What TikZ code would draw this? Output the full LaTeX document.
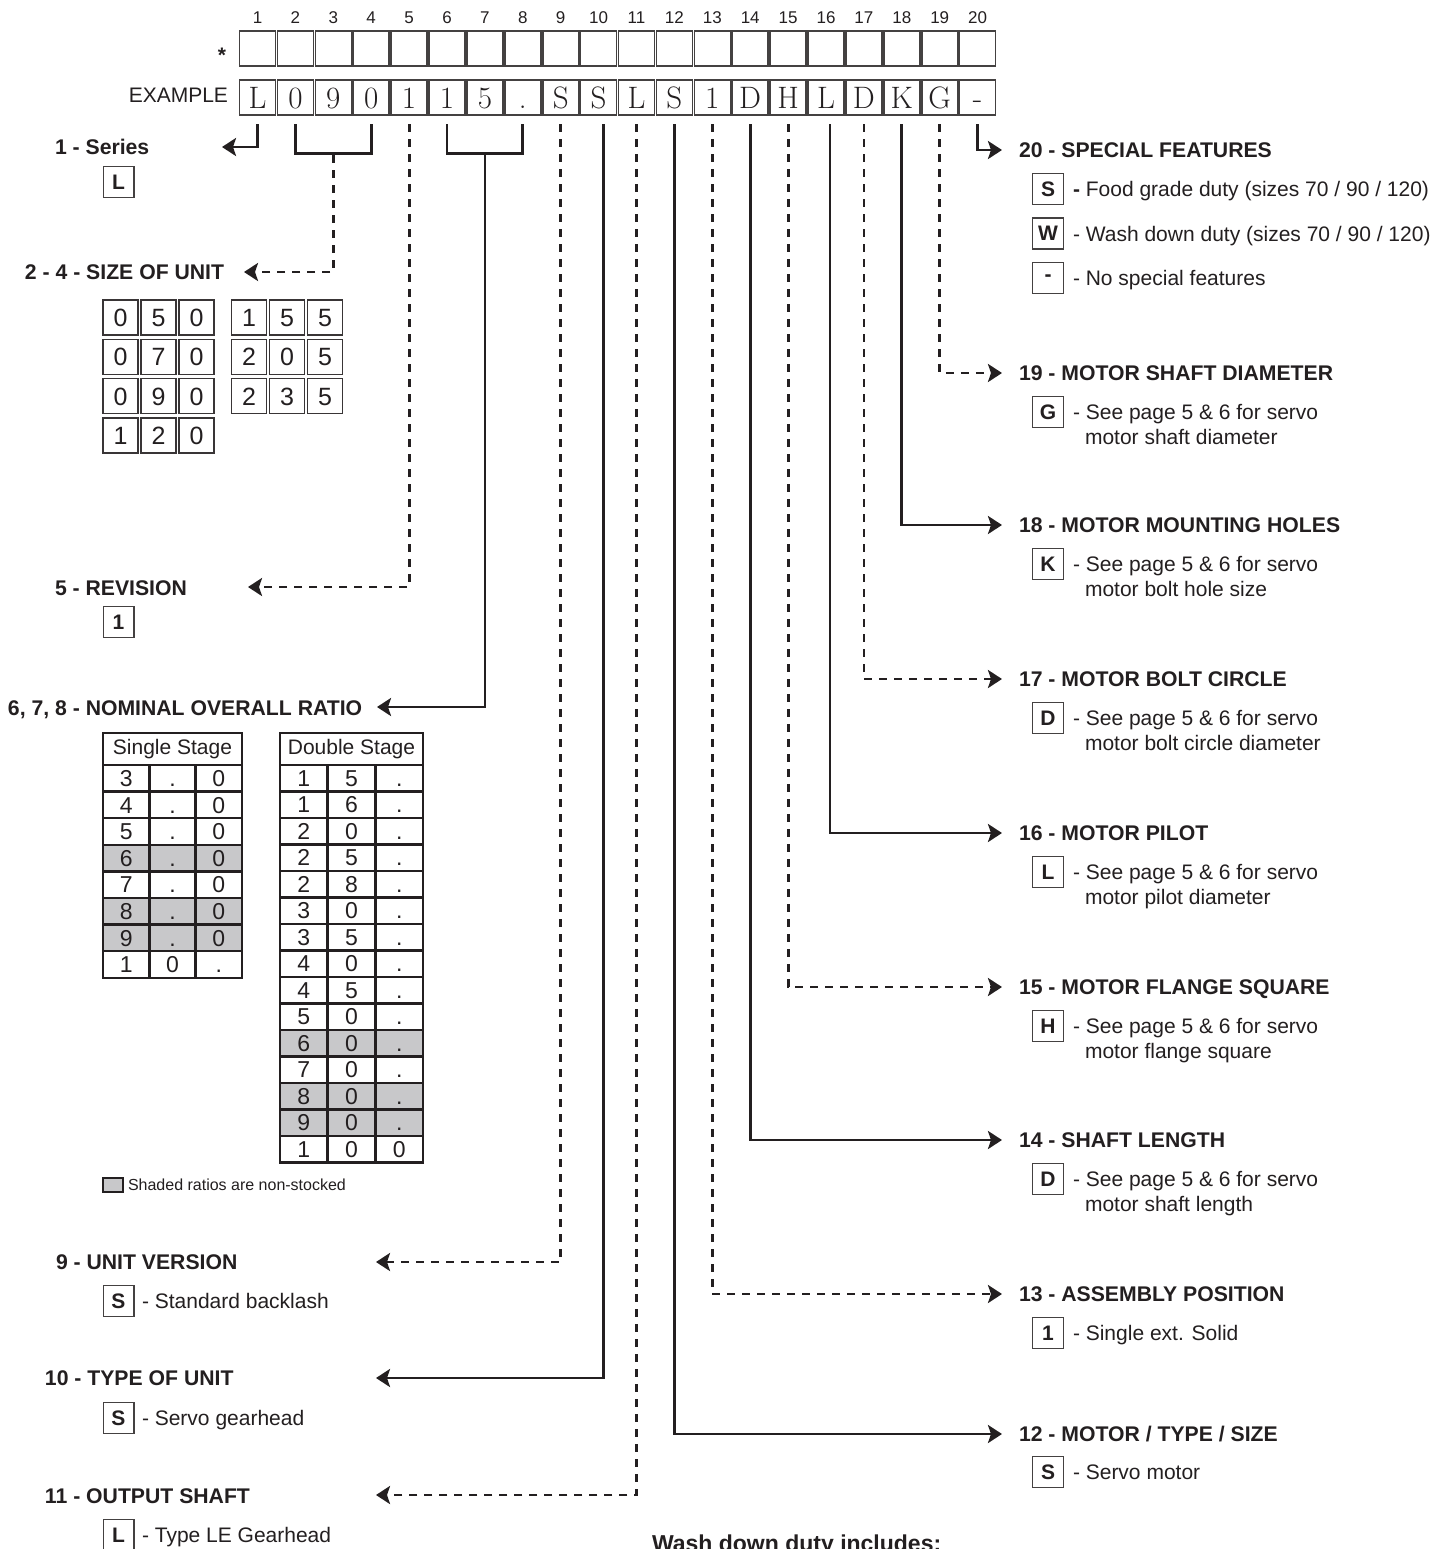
\documentclass[tikz,border=0pt]{standalone}
\usepackage{fontspec}
\setsansfont{Liberation Sans}
\usetikzlibrary{arrows.meta,calc}
\definecolor{ink}{RGB}{35,31,32}
\definecolor{shade}{RGB}{200,200,202}
\begin{document}
\begin{tikzpicture}[x=0.5pt,y=-0.5pt,
  every node/.style={inner sep=0pt,outer sep=0pt,text=ink},
  ttl/.style={font=\sffamily\bfseries\fontsize{10.6}{12.7}\selectfont,anchor=base west},
  txt/.style={font=\sffamily\fontsize{10.5}{12.6}\selectfont,anchor=base west},
  numlab/.style={font=\sffamily\fontsize{8.5}{10}\selectfont,anchor=base},
  cbox/.style={draw=ink!85,line width=0.8pt,minimum width=18pt,minimum height=17.6pt},
  ebox/.style={cbox,font=\rmfamily\fontsize{15.5}{17}\selectfont,text height=10.6pt,text depth=0pt},
  ibox/.style={draw=ink!85,line width=0.7pt,minimum width=15.3pt,minimum height=15.6pt,font=\sffamily\bfseries\fontsize{10.5}{12}\selectfont},
  sbox/.style={draw=ink!90,line width=0.8pt,minimum width=17.5pt,minimum height=17.5pt,font=\sffamily\fontsize{12.5}{14}\selectfont,text height=8.9pt,text depth=0pt},
  rcell/.style={draw=ink,line width=1.2pt,minimum height=13.3pt,font=\sffamily\fontsize{11.5}{13}\selectfont,text height=8.2pt,text depth=0pt},
  rhead/.style={draw=ink,line width=1.2pt,minimum height=16pt,font=\sffamily\fontsize{10.5}{12}\selectfont},
  conn/.style={draw=ink,line width=1.4pt},
  dashc/.style={conn,dash pattern=on 4pt off 3.5pt},
  tip/.style={-{Stealth[length=7pt,width=9pt,inset=1.5pt]}}
]
\useasboundingbox (0,0) rectangle (1450,1549);
\fill[white] (0,0) rectangle (1450,1549);

% ---------- code boxes ----------
\node[font=\sffamily\bfseries\fontsize{10.5}{12}\selectfont,anchor=base] (star) at (222,62) {*};
\node[font=\sffamily\fontsize{10.5}{12}\selectfont,anchor=base east] (exlab) at (228,102.5) {EXAMPLE};
\foreach \k/\c in {1/L,2/0,3/9,4/0,5/1,6/1,7/5,8/.,9/S,10/S,11/L,12/S,13/1,14/D,15/H,16/L,17/D,18/K,19/G,20/-}{
  \pgfmathsetmacro\xx{257.5+37.9*(\k-1)}
  \node[numlab] (n\k) at (\xx,23) {\k};
  \node[cbox] (t\k) at (\xx,48.3) {};
  \node[ebox] (e\k) at (\xx,97.5) {\c};
}

% ---------- arrow tip coordinates ----------
\coordinate (a1) at (222,147);
\coordinate (a2) at (244,272);
\coordinate (a5) at (248,587);
\coordinate (a6) at (377,707);
\coordinate (a9) at (376,1262);
\coordinate (a10) at (376,1378);
\coordinate (a11) at (376,1495);
\coordinate (a12) at (1002,1434);
\coordinate (a13) at (1002,1294);
\coordinate (a14) at (1002,1140);
\coordinate (a15) at (1002,987);
\coordinate (a16) at (1002,833);
\coordinate (a17) at (1002,679);
\coordinate (a18) at (1002,525);
\coordinate (a19) at (1002,373);
\coordinate (a20) at (1002,150);

% ---------- connectors ----------
\draw[conn,tip] ($(e1.south)+(0,9)$) |- (a1);
\draw[conn] ($(e2.south)+(0,9)$) -- ($(e2.south)+(0,38)$) -- ($(e4.south)+(0,38)$) -- ($(e4.south)+(0,9)$);
\draw[dashc,tip] ($(e3.south)+(0,40)$) |- (a2);
\draw[dashc,tip] ($(e5.south)+(0,9)$) |- (a5);
\draw[conn] ($(e6.south)+(0,9)$) -- ($(e6.south)+(0,38)$) -- ($(e8.south)+(0,38)$) -- ($(e8.south)+(0,9)$);
\draw[conn,tip] ($(e7.south)+(0,38)$) |- (a6);
\draw[dashc,tip] ($(e9.south)+(0,9)$) |- (a9);
\draw[conn,tip] ($(e10.south)+(5,9)$) |- (a10);
\draw[dashc,tip] ($(e11.south)+(0,9)$) |- (a11);
\draw[conn,tip] ($(e12.south)+(0,9)$) |- (a12);
\draw[dashc,tip] ($(e13.south)+(0,9)$) |- (a13);
\draw[conn,tip] ($(e14.south)+(0,9)$) |- (a14);
\draw[dashc,tip] ($(e15.south)+(0,9)$) |- (a15);
\draw[conn,tip] ($(e16.south)+(4,9)$) |- (a16);
\draw[dashc,tip] ($(e17.south)+(0,9)$) |- (a17);
\draw[conn,tip] ($(e18.south)+(0,9)$) |- (a18);
\draw[dashc,tip] ($(e19.south)+(0,9)$) |- (a19);
\draw[conn,tip] ($(e20.south)+(0,9)$) |- (a20);

% ---------- left column ----------
\node[ttl] (lt1) at (55,154.5) {1 - Series};
\node[ibox] (lb1) at (118.5,182) {L};

\node[ttl] (lt2) at (25,279.5) {2 - 4 - SIZE OF UNIT};
\foreach \r/\p/\q/\s in {1/0/5/0,2/0/7/0,3/0/9/0,4/1/2/0}{
  \pgfmathsetmacro\yy{317.5+39.3*(\r-1)}
  \node[sbox] (sa\r-1) at (120.5,\yy) {\p};
  \node[sbox] (sa\r-2) at (158.5,\yy) {\q};
  \node[sbox] (sa\r-3) at (196.5,\yy) {\s};
}
\foreach \r/\p/\q/\s in {1/1/5/5,2/2/0/5,3/2/3/5}{
  \pgfmathsetmacro\yy{317.5+39.3*(\r-1)}
  \node[sbox] (sb\r-1) at (249,\yy) {\p};
  \node[sbox] (sb\r-2) at (287,\yy) {\q};
  \node[sbox] (sb\r-3) at (325,\yy) {\s};
}

\node[ttl] (lt5) at (55,595.5) {5 - REVISION};
\node[ibox] (lb5) at (118.5,622) {1};

\node[ttl] (lt6) at (8,715.5) {6, 7, 8 - NOMINAL OVERALL RATIO};
\node[rhead,minimum width=69.5pt] (sh) at (172.5,749) {Single Stage};
\foreach \i/\p/\q/\s/\f in {1/3/./0/0,2/4/./0/0,3/5/./0/0,4/6/./0/1,5/7/./0/0,6/8/./0/1,7/9/./0/1,8/1/0/./0}{
  \pgfmathsetmacro\yy{765+26.6*(\i-0.5)}
  \ifnum\f=1 \def\cf{shade}\else\def\cf{white}\fi
  \node[rcell,fill=\cf,minimum width=23.15pt] (ss\i-1) at (126.2,\yy) {\p};
  \node[rcell,fill=\cf,minimum width=23.15pt] (ss\i-2) at (172.5,\yy) {\q};
  \node[rcell,fill=\cf,minimum width=23.15pt] (ss\i-3) at (218.8,\yy) {\s};
}
\node[rhead,minimum width=71.5pt] (dh) at (351.5,749) {Double Stage};
\foreach \i/\p/\q/\s/\f in {1/1/5/./0,2/1/6/./0,3/2/0/./0,4/2/5/./0,5/2/8/./0,6/3/0/./0,7/3/5/./0,8/4/0/./0,9/4/5/./0,10/5/0/./0,11/6/0/./1,12/7/0/./0,13/8/0/./1,14/9/0/./1,15/1/0/0/0}{
  \pgfmathsetmacro\yy{765+26.5*(\i-0.5)}
  \ifnum\f=1 \def\cf{shade}\else\def\cf{white}\fi
  \node[rcell,fill=\cf,minimum width=23.83pt,minimum height=13.25pt] (ds\i-1) at (303.8,\yy) {\p};
  \node[rcell,fill=\cf,minimum width=23.83pt,minimum height=13.25pt] (ds\i-2) at (351.5,\yy) {\q};
  \node[rcell,fill=\cf,minimum width=23.83pt,minimum height=13.25pt] (ds\i-3) at (399.2,\yy) {\s};
}
\node[draw=ink,fill=shade,line width=0.8pt,minimum width=10pt,minimum height=7pt] (lg) at (113,1185) {};
\node[font=\sffamily\fontsize{8}{9.6}\selectfont,anchor=base west] (lgt) at (128,1190.5) {Shaded ratios are non-stocked};

\node[ttl] (lt9) at (56,1269.5) {9 - UNIT VERSION};
\node[ibox] (lb9) at (118.5,1301) {S};
\node[txt] (lx9) at (142,1308.5) {- Standard backlash};

\node[ttl] (lt10) at (45,1385.5) {10 - TYPE OF UNIT};
\node[ibox] (lb10) at (118.5,1418) {S};
\node[txt] (lx10) at (142,1425.5) {- Servo gearhead};

\node[ttl] (lt11) at (45,1503.5) {11 - OUTPUT SHAFT};
\node[ibox] (lb11) at (118.5,1535) {L};
\node[txt] (lx11) at (142,1542.5) {- Type LE Gearhead};

% ---------- right column ----------
\node[ttl] (rt20) at (1019,157.5) {20 - SPECIAL FEATURES};
\node[ibox] (rb20a) at (1048,189) {S};
\node[txt] (rx20a) at (1073,196.5) {\textbf{-} Food grade duty (sizes 70 / 90 / 120)};
\node[ibox] (rb20b) at (1048,233.5) {W};
\node[txt] (rx20b) at (1073,241) {- Wash down duty (sizes 70 / 90 / 120)};
\node[ibox] (rb20c) at (1048,278) {-};
\node[txt] (rx20c) at (1073,285.5) {- No special features};

\newcommand\ritem[6]{%
  \node[ttl] (rt#1) at (1019,#2+7.5) {#3};
  \node[ibox] (rb#1) at (1048,#2+39) {#4};
  \node[txt] (rx#1a) at (1073,#2+46.5) {- #5};
  \node[txt] (rx#1b) at (1085,#2+71.5) {#6};
}
\ritem{19}{373}{19 - MOTOR SHAFT DIAMETER}{G}{See page 5 \& 6 for servo}{motor shaft diameter}
\ritem{18}{525}{18 - MOTOR MOUNTING HOLES}{K}{See page 5 \& 6 for servo}{motor bolt hole size}
\ritem{17}{679}{17 - MOTOR BOLT CIRCLE}{D}{See page 5 \& 6 for servo}{motor bolt circle diameter}
\ritem{16}{833}{16 - MOTOR PILOT}{L}{See page 5 \& 6 for servo}{motor pilot diameter}
\ritem{15}{987}{15 - MOTOR FLANGE SQUARE}{H}{See page 5 \& 6 for servo}{motor flange square}
\ritem{14}{1140}{14 - SHAFT LENGTH}{D}{See page 5 \& 6 for servo}{motor shaft length}

\node[ttl] (rt13) at (1019,1301.5) {13 - ASSEMBLY POSITION};
\node[ibox] (rb13) at (1048,1333) {1};
\node[txt] (rx13) at (1073,1340.5) {- Single ext. Solid};

\node[ttl] (rt12) at (1019,1441.5) {12 - MOTOR / TYPE / SIZE};
\node[ibox] (rb12) at (1048,1472) {S};
\node[txt] (rx12) at (1073,1479.5) {- Servo motor};

\node[font=\sffamily\bfseries\fontsize{11.5}{13.8}\selectfont,anchor=base west] (wash) at (652,1551) {Wash down duty includes:};
\end{tikzpicture}
\end{document}
